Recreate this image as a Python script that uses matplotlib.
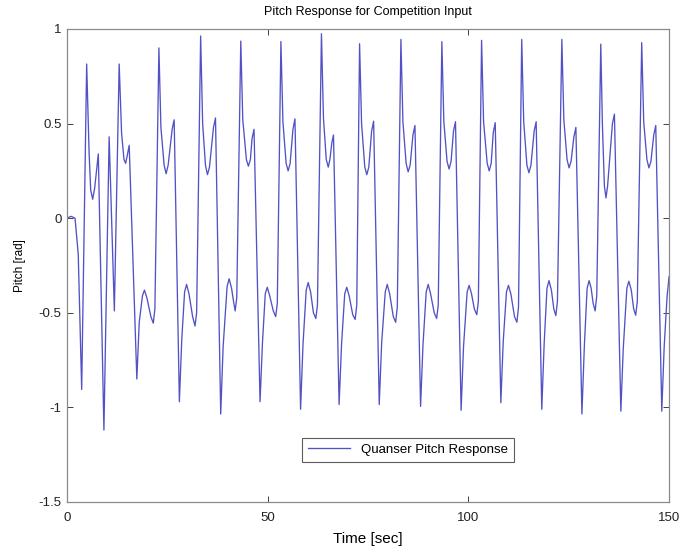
import matplotlib
matplotlib.use("Agg")
import matplotlib.pyplot as plt

# Points (extrema plus shoulder points of the response)
time_s = [
    0, 1.0, 2.0, 2.8, 3.66, 4.9, 5.5, 5.9, 6.4, 6.9, 7.8, 9.2, 10.5, 11.8, 13.0, 13.6, 14.2,
    14.6, 15.0, 15.5, 17.4, 18.0, 18.8, 19.3, 19.9, 20.9, 21.5, 21.9,
    22.9, 23.4, 24.2, 24.7, 25.2, 26.2, 26.7, 28.0, 28.6, 29.3, 29.8, 30.4, 31.3, 31.9, 32.3,
    33.3, 33.8, 34.5, 35.0, 35.5, 36.5, 37.0, 38.3, 38.9, 39.9, 40.4, 41.0, 41.5, 41.9, 42.3,
    43.3, 43.8, 44.7, 45.2, 45.7, 46.1, 46.6, 48.1, 48.7, 49.4, 49.9, 50.5, 51.4, 52.0, 52.4,
    53.3, 53.8, 54.6, 55.1, 55.6, 56.3, 56.8, 58.2, 58.8, 59.6, 60.1, 60.7, 61.4, 62.0, 62.4,
    63.4, 63.9, 64.6, 65.1, 65.5, 66.0, 66.4, 67.8, 68.4, 69.2, 69.7, 70.3, 71.2, 71.8, 72.2,
    72.9, 73.4, 74.2, 74.7, 75.2, 75.9, 76.4, 77.8, 78.4, 79.3, 79.8, 80.4, 81.3, 81.9, 82.3,
    83.2, 83.7, 84.5, 85.0, 85.5, 86.2, 86.7, 88.1, 88.7, 89.5, 90.0, 90.6, 91.5, 92.1, 92.5,
    93.4, 93.9, 94.7, 95.2, 95.7, 96.3, 96.8, 98.2, 98.8, 99.7, 100.2, 100.8, 101.5, 102.1, 102.5,
    103.3, 103.8, 104.7, 105.2, 105.7, 106.2, 106.7, 108.1, 108.7, 109.5, 110.0, 110.6, 111.5, 112.1, 112.5,
    113.3, 113.8, 114.6, 115.1, 115.6, 116.4, 116.9, 118.3, 118.9, 119.6, 120.1, 120.7, 121.3, 121.8, 122.2,
    123.3, 123.8, 124.6, 125.1, 125.6, 126.3, 126.8, 128.3, 128.9, 129.6, 130.1, 130.6, 131.1, 131.6, 132.0,
    133.0, 133.4, 133.9, 134.3, 134.7, 135.9, 136.4, 138.0, 138.6, 139.5, 140.0, 140.6, 141.2, 141.7, 142.1,
    143.2, 143.7, 144.5, 145.0, 145.5, 146.2, 146.7, 148.2, 148.8, 149.5, 150.0,
]
pitch_rad = [
    0, 0.01, 0.0, -0.19, -0.905, 0.815, 0.35, 0.15, 0.10, 0.16, 0.34, -1.12, 0.43, -0.49, 0.815, 0.45, 0.31,
    0.29, 0.33, 0.385, -0.85, -0.55, -0.41, -0.38, -0.42, -0.52, -0.555, -0.48,
    0.90, 0.48, 0.28, 0.235, 0.28, 0.47, 0.52, -0.97, -0.64, -0.39, -0.35, -0.40, -0.52, -0.57, -0.50,
    0.963, 0.50, 0.28, 0.23, 0.27, 0.48, 0.53, -1.035, -0.68, -0.36, -0.32, -0.37, -0.44, -0.49, -0.42,
    0.936, 0.52, 0.31, 0.275, 0.31, 0.42, 0.47, -0.97, -0.66, -0.40, -0.365, -0.41, -0.49, -0.52, -0.45,
    0.934, 0.51, 0.29, 0.25, 0.29, 0.47, 0.525, -1.01, -0.67, -0.38, -0.34, -0.39, -0.50, -0.53, -0.46,
    0.975, 0.53, 0.31, 0.27, 0.31, 0.40, 0.44, -0.985, -0.67, -0.40, -0.365, -0.41, -0.51, -0.535, -0.46,
    0.922, 0.50, 0.27, 0.23, 0.27, 0.46, 0.513, -0.985, -0.66, -0.39, -0.35, -0.40, -0.52, -0.55, -0.47,
    0.945, 0.51, 0.29, 0.245, 0.28, 0.44, 0.49, -0.995, -0.67, -0.39, -0.35, -0.40, -0.50, -0.53, -0.46,
    0.933, 0.51, 0.30, 0.26, 0.30, 0.46, 0.51, -1.015, -0.68, -0.39, -0.355, -0.40, -0.48, -0.51, -0.44,
    0.94, 0.51, 0.29, 0.25, 0.29, 0.45, 0.505, -0.975, -0.65, -0.39, -0.355, -0.40, -0.52, -0.55, -0.47,
    0.945, 0.51, 0.28, 0.24, 0.28, 0.46, 0.51, -1.01, -0.66, -0.37, -0.33, -0.38, -0.48, -0.515, -0.44,
    0.945, 0.52, 0.31, 0.266, 0.30, 0.43, 0.48, -1.035, -0.68, -0.37, -0.33, -0.37, -0.45, -0.49, -0.41,
    0.92, 0.50, 0.17, 0.107, 0.17, 0.50, 0.55, -1.02, -0.69, -0.37, -0.333, -0.38, -0.48, -0.513, -0.44,
    0.928, 0.51, 0.31, 0.266, 0.30, 0.44, 0.49, -1.02, -0.68, -0.42, -0.31,
]

x_ticks = [0, 50, 100, 150]
y_ticks = [-1.5, -1, -0.5, 0, 0.5, 1]
y_tick_labels = ["-1.5", "-1", "-0.5", "0", "0.5", "1"]

title = "Pitch Response for Competition Input"
x_label = "Time [sec]"
y_label = "Pitch [rad]"
series_name = "Quanser Pitch Response"

plt.rcParams['font.family'] = ['Liberation Sans', 'DejaVu Sans']

fig = plt.figure(figsize=(6.84, 5.55), dpi=100)
ax = fig.add_axes([67 / 684, 1 - 502 / 555, 602 / 684, (502 - 29) / 555])

ax.plot(time_s, pitch_rad, color='#5252c6', linewidth=0.95, label=series_name,
        solid_joinstyle='round')

ax.set_xlim(0, 150)
ax.set_ylim(-1.5, 1)
ax.set_xticks(x_ticks)
ax.set_yticks(y_ticks)
ax.set_yticklabels(y_tick_labels)
ax.tick_params(direction='in', top=True, right=True, length=4, width=0.6,
               labelsize=9.5, colors='#222222')
ax.tick_params(axis='x', pad=7)
ax.tick_params(axis='y', pad=4)
for s in ax.spines.values():
    s.set_color('#8a8a8a')
    s.set_linewidth(0.9)

ax.set_title(title, fontsize=9, pad=10)
ax.set_xlabel(x_label, fontsize=11, labelpad=6)
ax.set_ylabel(y_label, fontsize=8.5, labelpad=9)

leg = ax.legend(loc='center', bbox_to_anchor=(0.566, 0.11), fontsize=9.5,
                frameon=True, fancybox=False, handlelength=3.2, borderpad=0.45)
leg.get_frame().set_edgecolor('#333333')
leg.get_frame().set_linewidth(0.8)

fig.savefig("out.png", dpi=100)
